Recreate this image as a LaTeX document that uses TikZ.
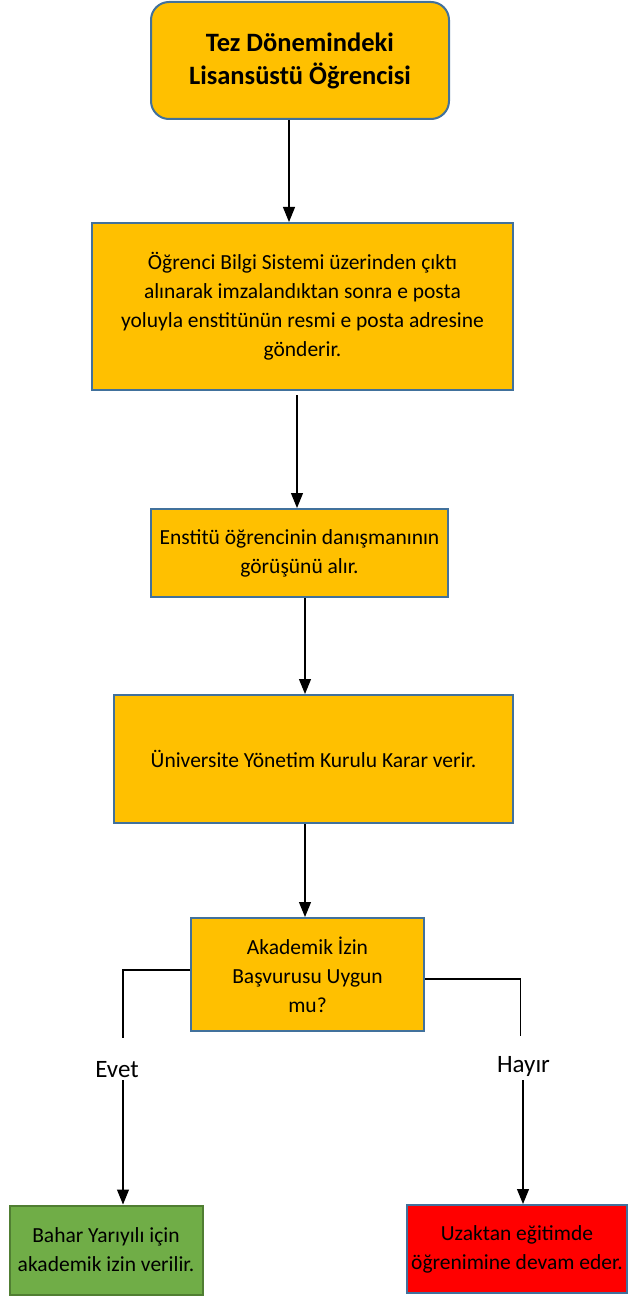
\documentclass[tikz,border=0pt]{standalone}
\usepackage{fontspec}
\setmainfont{Carlito}
\usetikzlibrary{arrows.meta,calc}
\definecolor{orfill}{HTML}{FFC000}
\definecolor{bluebd}{HTML}{41719C}
\definecolor{grfill}{HTML}{70AD47}
\definecolor{grbd}{HTML}{507E32}
\definecolor{rdfill}{HTML}{FF0000}
\tikzset{
  box/.style={draw=bluebd, line width=2pt, fill=orfill, inner sep=0pt, align=center,
    font=\fontsize{21.5}{29}\selectfont},
  arr/.style={draw=black, line width=1.1pt, -{Triangle[width=12pt,length=15pt]}},
  ln/.style={draw=black, line width=1.1pt},
  lbl/.style={font=\fontsize{25}{28}\selectfont, inner sep=0pt}
}
\begin{document}
\begin{tikzpicture}[x=1pt,y=-1pt]
\useasboundingbox (0,0) rectangle (630,1297);
\node[box, rounded corners=18pt, minimum width=298pt, minimum height=117pt,
  font=\fontsize{26.5}{33}\selectfont\bfseries] (b1) at (300,60.5) {Tez Dönemindeki\\Lisansüstü Öğrencisi};
\node[box, minimum width=421pt, minimum height=167pt] (b2) at (302.5,306.5)
  {Öğrenci Bilgi Sistemi üzerinden çıktı\\alınarak imzalandıktan sonra e posta\\yoluyla enstitünün resmi e posta adresine\\gönderir.};
\node[box, minimum width=297pt, minimum height=88pt] (b3) at (299.5,553)
  {Enstitü öğrencinin danışmanının\\görüşünü alır.};
\node[box, minimum width=399pt, minimum height=128pt] (b4) at (313.5,759)
  {Üniversite Yönetim Kurulu Karar verir.};
\node[box, minimum width=233pt, minimum height=113pt] (b5) at (307.5,974.5)
  {Akademik İzin\\Başvurusu Uygun\\mu?};
\node[box, draw=grbd, fill=grfill, minimum width=193pt, minimum height=89pt] (g) at (106,1250)
  {Bahar Yarıyılı için\\akademik izin verilir.};
\node[box, fill=rdfill, minimum width=220pt, minimum height=88pt] (r) at (517,1249)
  {Uzaktan eğitimde\\öğrenimine devam eder.};
\node[lbl] (evet) at (117,1070) {Evet};
\node[lbl] (hayir) at (523.5,1066) {Hayır};
\coordinate (ca) at (289,0);
\coordinate (cb) at (297,0);
\coordinate (cc) at (305,0);
\coordinate (eu) at (123,1038);
\coordinate (ed) at (123,1080);
\coordinate (hu) at (520.5,1036);
\coordinate (hd) at (523,1080);
\draw[arr] (b1.south -| ca) -- (b2.north -| ca);
\draw[arr] ([yshift=-4pt]b2.south -| cb) -- (b3.north -| cb);
\draw[arr] (b3.south -| cc) -- (b4.north -| cc);
\draw[arr] (b4.south -| cc) -- (b5.north -| cc);
\draw[ln] ([yshift=4.5pt]b5.west) -| (eu);
\draw[arr] (ed) -- (g.north -| ed);
\draw[ln] ([yshift=-4.5pt]b5.east) -| (hu);
\draw[arr] (hd) -- (r.north -| hd);
\end{tikzpicture}
\end{document}
